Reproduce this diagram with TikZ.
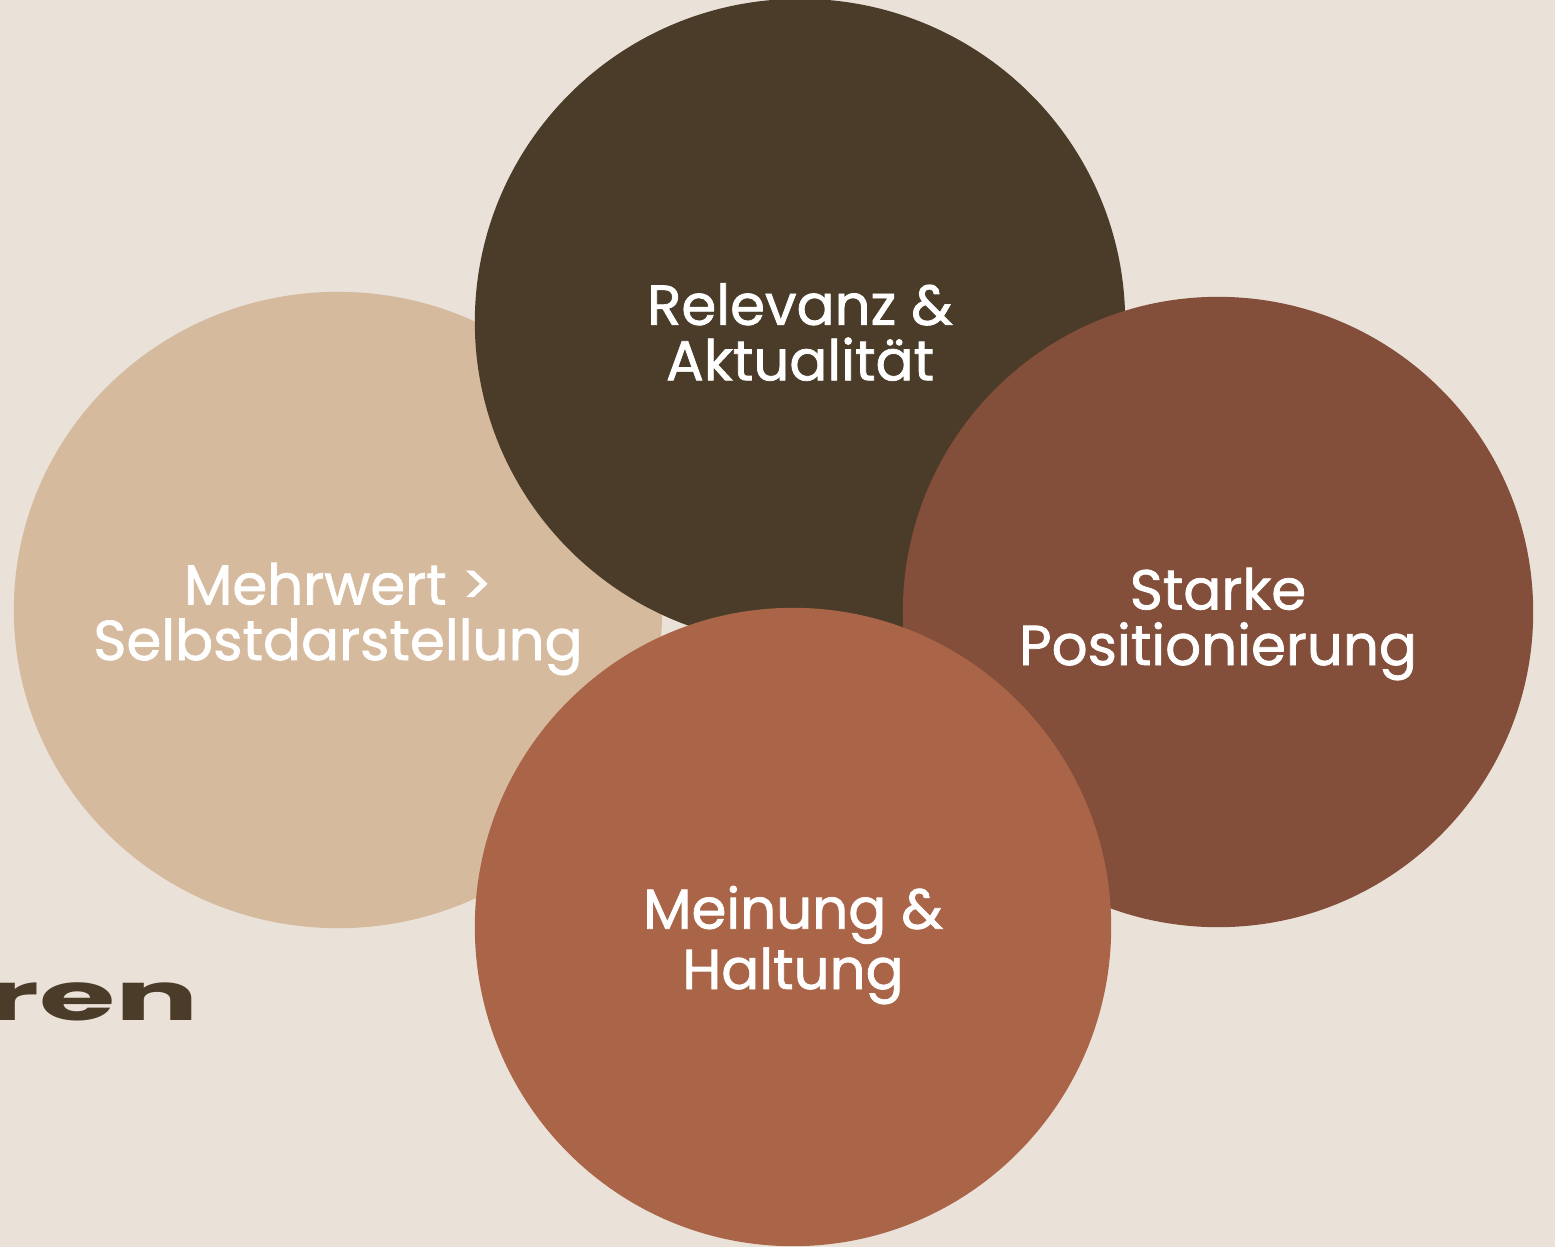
\documentclass[tikz,border=0pt]{standalone}
\usepackage{fontspec}
\setmainfont{Poppins}
\newfontfamily\capfont[FakeBold=1.3]{Poppins}
\usepackage{tikz}
\usetikzlibrary{shapes.geometric}
\definecolor{paper}{HTML}{EAE2D8}
\definecolor{sand}{HTML}{D6BA9E}
\definecolor{umber}{HTML}{4A3C28}
\definecolor{rust}{HTML}{834F3A}
\definecolor{clay}{HTML}{AA6549}
\tikzset{
  bubble/.style={ellipse, inner sep=0pt, outer sep=0pt},
  caption/.style={text=white, align=center, inner sep=0pt,
    font=\capfont\fontsize{16}{15.8}\selectfont},
  tag/.style={text=umber, font=\bfseries\fontsize{19}{19}\selectfont, inner sep=0pt},
}

\begin{document}
\begin{tikzpicture}[x=0.01cm,y=0.01cm]
  \fill[paper] (0,0) rectangle (1555,1247);
  \useasboundingbox (0,0) rectangle (1555,1247);
  % four overlapping bubbles, back to front
  \node[bubble, fill=sand, minimum width=6.48cm, minimum height=6.36cm] (mehrwert) at (338,637) {};
  \node[bubble, fill=umber, minimum width=6.5cm, minimum height=6.46cm] (relevanz) at (800,925) {};
  \node[bubble, fill=rust, minimum width=6.3cm, minimum height=6.3cm] (starke) at (1218,635) {};
  \node[bubble, fill=clay, minimum width=6.36cm, minimum height=6.38cm] (meinung) at (793,320) {};
  % texts
  \node[caption] (mehrwert-t) at ([yshift=-0.09cm]mehrwert) {Mehrwert >\\Selbstdarstellung};
  \node[caption] (relevanz-t) at ([yshift=-0.10cm]relevanz) {Relevanz \&\\Aktualität};
  \node[caption] (starke-t) at ([yshift=-0.12cm]starke) {Starke\\Positionierung};
  \node[caption] (meinung-t) at ([yshift=-0.18cm]meinung) {Meinung \&\\Haltung};
  % cut-off word at the left edge
  \node[tag, anchor=base east] (ren) at (200,227) {\scalebox{1.85}[1]{ren}};
\end{tikzpicture}
\end{document}
